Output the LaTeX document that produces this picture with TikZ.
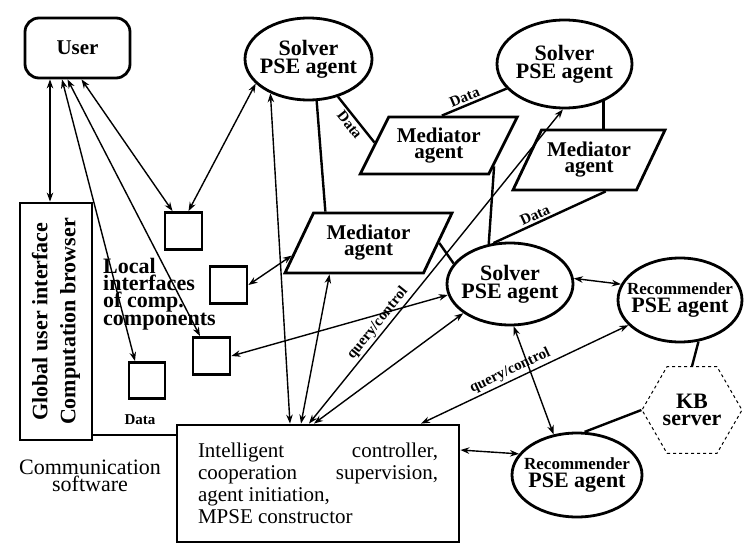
\documentclass[tikz,border=0pt]{standalone}
\usepackage{fontspec}
\setmainfont{Liberation Serif}
\usetikzlibrary{shapes.geometric,calc,arrows.meta}

\begin{document}
\begin{tikzpicture}[x=1pt,y=-1pt,
    agent/.style={draw,ellipse,line width=2.8pt,inner xsep=-12pt,inner ysep=0pt,align=center,font=\fontsize{22}{18}\selectfont\bfseries},
    mediator/.style={draw,trapezium,trapezium left angle=51,trapezium right angle=129,trapezium stretches body=true,line width=2.8pt,inner sep=0pt,align=center,font=\fontsize{21}{16}\selectfont\bfseries},
    box/.style={draw,rectangle,line width=2.8pt,inner sep=0pt},
    link/.style={line width=2.4pt},
    dbl/.style={line width=1.4pt,{Stealth[length=9pt,width=6.5pt]}-{Stealth[length=9pt,width=6.5pt]}},
    lbl/.style={font=\fontsize{15}{15}\selectfont\bfseries,inner sep=2pt}]
                      \useasboundingbox (0,0) rectangle (752,559);

                      \node[box,rounded corners=14pt,minimum width=105pt,minimum height=60pt,font=\fontsize{21}{21}\selectfont\bfseries] (user) at (77.5,48) {User};
                      \node[box,minimum width=72pt,minimum height=237pt] (glob) at (56,321.5) {};
                      \node[rotate=90,align=center,font=\fontsize{22}{28}\selectfont\bfseries] (globtxt) at (glob) {Global user interface\\Computation browser};

                      \node[box,minimum size=37pt] (boxA) at (183.5,231) {};
                      \node[box,minimum size=37pt] (boxD) at (228.5,285) {};
                      \node[box,minimum size=37pt] (boxB) at (211.5,356) {};
                      \node[box,minimum size=36pt] (boxC) at (147,380.5) {};

                      \node[agent,minimum width=127pt,minimum height=82pt] (solA) at (308.5,59) {Solver\\PSE agent};
                      \node[agent,minimum width=135pt,minimum height=88pt] (solB) at (564.5,64) {Solver\\PSE agent};
                      \node[agent,minimum width=126pt,minimum height=82pt] (solC) at (510,284) {Solver\\PSE agent};
                      \node[agent,minimum width=124pt,minimum height=84pt] (recA) at (680,300) {{\fontsize{17}{18}\selectfont Recommender}\\PSE agent};
                      \node[agent,minimum width=130pt,minimum height=84pt] (recB) at (577,475) {{\fontsize{17}{18}\selectfont Recommender}\\PSE agent};

                      \node[mediator,minimum width=157pt,minimum height=57pt] (medA) at (438.75,145.5) {Mediator\\agent};
                      \node[mediator,minimum width=152pt,minimum height=60pt] (medB) at (589,160) {Mediator\\agent};
                      \node[mediator,minimum width=167pt,minimum height=60pt] (medC) at (368.5,243) {Mediator\\agent};

                      \node[draw,regular polygon,regular polygon sides=6,minimum size=100pt,inner sep=0pt,dashed,line width=1pt,align=center,font=\fontsize{22}{17}\selectfont\bfseries] (kb) at (692,410) {KB\\server};

                      \node[box,minimum width=282pt,minimum height=117pt,align=left,font=\fontsize{21}{22}\selectfont] (ctrl) at (318,483.5) {\makebox[240pt][s]{Intelligent controller,}\\\makebox[240pt][s]{cooperation supervision,}\\agent initiation,\\MPSE constructor};

                      \node[align=left,anchor=north west,inner sep=0pt,font=\fontsize{22}{17}\selectfont\bfseries] (local) at (103,258) {Local\\interfaces\\of comp.\\components};
                      \node[align=center,font=\fontsize{22}{17}\selectfont] (comm) at (90,476) {Communication\\software};
                      \node[lbl] (data) at (140,420) {Data};

                      \draw[dbl] ([xshift=-6pt]glob.north) -- ([xshift=-6pt]glob.north |- user.south);
                      \draw[dbl] ([xshift=-15.5pt]user.south) -- ([xshift=-12pt]boxC.north);
                      \draw[dbl] ([xshift=-10pt]user.south) -- ([xshift=-11.5pt]boxB.north);
                      \draw[dbl] ([xshift=4pt]user.south) -- ([xshift=-11pt]boxA.north);
                      \draw[dbl] ([xshift=5pt]boxA.north) -- (solA.205);
                      \draw[dbl] (boxD.east) -- ($(medC.bottom left corner)!0.3!(medC.top left corner)$);
                      \draw[dbl] (boxB.east) -- (solC.190);

                      \draw[link] (solA.281) -- ($(medC.top left corner)!0.09!(medC.top right corner)$);
                      \draw[link] (solA.308) -- node[lbl,sloped,below] (dataA) {Data} ($(medA.bottom left corner)!0.55!(medA.top left corner)$);
                      \draw[link] ($(medA.top left corner)!0.41!(medA.top right corner)$) -- node[lbl,sloped,above,pos=0.4] (dataB) {Data} (solB.203);
                      \draw[link] (solB.316) -- (solB.316 |- medB.top left corner);
                      \draw[link] ($(medA.bottom right corner)!0.15!(medA.top right corner)$) -- (solC.118);
                      \draw[link] (solC.112) -- node[lbl,sloped,above,pos=0.4] (dataC) {Data} ($(medB.bottom left corner)!0.75!(medB.bottom right corner)$);
                      \draw[link] ($(medC.bottom right corner)!0.5!(medC.top right corner)$) -- (solC.160);

                      \draw[dbl] (solA.222) -- ([xshift=-28pt]ctrl.north);
                      \draw[dbl] ($(medC.bottom left corner)!0.33!(medC.bottom right corner)$) -- ([xshift=-17pt]ctrl.north);
                      \draw[dbl] ([xshift=-9pt]ctrl.north) -- node[lbl,sloped,above,pos=0.3] (qcA) {query/control} (solB.268);
                      \draw[dbl] ([xshift=-4pt]ctrl.north) -- (solC.212);
                      \draw[dbl] ([xshift=103pt]ctrl.north) -- node[lbl,sloped,above,pos=0.45] (qcB) {query/control} (recA.206);
                      \draw[dbl] ([yshift=33.5pt]ctrl.east) -- (recB.160);
                      \draw[dbl] (solC.5) -- (recA.165);
                      \draw[dbl] (solC.275) -- (recB.120);

                      \draw[link] (recA.294) -- (kb.north);
                      \draw[link] (kb.west) -- (recB.80);
                      \draw[link] ([yshift=48.5pt]ctrl.west) -- ([yshift=48.5pt]ctrl.west -| glob.east);
                \end{tikzpicture}
\end{document}
